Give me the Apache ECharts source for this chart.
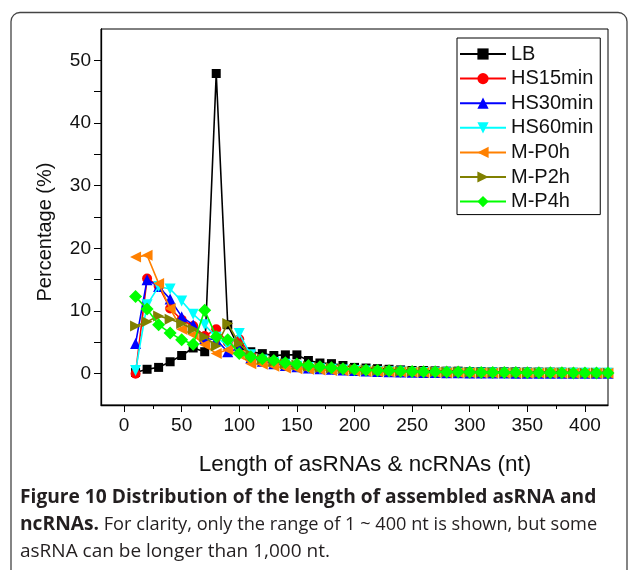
<!DOCTYPE html>
<html>
<head>
<meta charset="utf-8">
<script src="https://cdn.jsdelivr.net/npm/echarts@6/dist/echarts.min.js"></script>
<style>
  html, body { margin: 0; padding: 0; background: #fff; }
  #chart { width: 630px; height: 570px; }
</style>
</head>
<body>
<div id="chart"></div>
<script>
// ---- data ----
const lengths = [10,20,30,40,50,60,70,80,90,100,110,120,130,140,150,160,170,180,190,200,210,220,230,240,250,260,270,280,290,300,310,320,330,340,350,360,370,380,390,400,410,420];
const seriesNames = ['LB','HS15min','HS30min','HS60min','M-P0h','M-P2h','M-P4h'];
const LB       = [0.2,0.7,1.0,1.9,2.9,4.1,3.5,47.9,7.8,4.0,3.5,3.2,2.9,3.0,3.0,2.1,1.7,1.6,1.3,1.0,0.9,0.8,0.7,0.6,0.5,0.5,0.45,0.4,0.4,0.35,0.35,0.3,0.3,0.3,0.28,0.26,0.25,0.24,0.22,0.2,0.2,0.2];
const HS15min  = [0.0,15.2,14.0,10.4,8.6,7.6,6.0,7.1,5.0,5.5,3.0,2.2,1.8,1.5,1.3,1.1,0.9,0.8,0.7,0.6,0.5,0.45,0.4,0.35,0.3,0.28,0.25,0.22,0.2,0.18,0.16,0.15,0.14,0.13,0.12,0.11,0.1,0.1,0.09,0.09,0.08,0.08];
const HS30min  = [4.8,15.0,13.9,11.9,9.1,7.8,5.6,5.4,3.5,4.0,2.5,2.0,1.6,1.3,1.1,0.9,0.8,0.7,0.6,0.5,0.42,0.36,0.3,0.26,0.22,0.2,0.18,0.16,0.14,0.12,0.1,0.1,0.09,0.08,0.08,0.07,0.07,0.06,0.06,0.05,0.05,0.05];
const HS60min  = [0.5,11.0,13.9,13.5,11.6,9.5,7.8,5.8,4.5,6.4,3.0,2.2,1.8,1.5,1.2,1.0,0.8,0.7,0.6,0.5,0.42,0.36,0.3,0.25,0.2,0.18,0.16,0.14,0.12,0.1,0.1,0.09,0.08,0.08,0.07,0.07,0.06,0.06,0.05,0.05,0.05,0.05];
const MP0h     = [18.6,18.9,14.4,10.4,7.1,6.2,4.6,3.2,3.8,3.0,1.6,1.5,1.2,0.9,0.8,0.7,0.6,0.5,0.45,0.4,0.35,0.3,0.28,0.25,0.22,0.2,0.18,0.16,0.15,0.14,0.13,0.12,0.11,0.1,0.1,0.09,0.09,0.08,0.08,0.08,0.07,0.07];
const MP2h     = [7.6,8.3,9.2,8.7,8.0,7.1,5.9,4.4,8.0,4.8,3.0,2.3,1.9,1.6,1.4,1.2,1.0,0.9,0.8,0.7,0.6,0.52,0.46,0.4,0.35,0.32,0.3,0.27,0.25,0.22,0.2,0.19,0.18,0.17,0.16,0.15,0.14,0.13,0.12,0.12,0.11,0.1];
const MP4h     = [12.3,10.3,7.8,6.5,5.4,4.7,10.1,5.9,5.4,3.2,2.7,2.4,2.1,1.75,1.55,1.3,1.1,0.95,0.8,0.7,0.6,0.5,0.45,0.4,0.35,0.32,0.3,0.28,0.25,0.22,0.2,0.2,0.18,0.17,0.16,0.15,0.14,0.13,0.12,0.12,0.11,0.1];
const xMajorTicks = [0,50,100,150,200,250,300,350,400];
const xMinorTicks = [25,75,125,175,225,275,325,375];
const yMajorTicks = [0,10,20,30,40,50];
const yMinorTicks = [5,15,25,35,45];

const allValues = [LB, HS15min, HS30min, HS60min, MP0h, MP2h, MP4h];
const colors  = ['#000000','#ff0000','#0000ff','#00ffff','#ff8000','#808000','#00ff00'];
const symbols = ['rect','circle','triangle','triangle','triangle','triangle','diamond'];
const rotates = [0,0,0,180,90,-90,0];
const sizes   = [9,10,11,11,11,11,13];

const FONT = 'Liberation Sans, Arial, Helvetica, sans-serif';
const CAP = '"Open Sans", "Noto Sans", sans-serif';

const series = seriesNames.map((name, i) => ({
  name: name,
  type: 'line',
  xAxisIndex: 0,
  yAxisIndex: 0,
  data: lengths.map((x, j) => [x, allValues[i][j]]),
  symbol: symbols[i],
  symbolRotate: rotates[i],
  symbolSize: sizes[i],
  showAllSymbol: true,
  animation: false,
  lineStyle: { color: colors[i], width: 1.6 },
  itemStyle: { color: colors[i], borderWidth: 0 },
  emphasis: { disabled: true },
  z: 2 + i
}));

const chart = echarts.init(document.getElementById('chart'), null, { renderer: 'canvas' });
chart.setOption({
  backgroundColor: '#ffffff',
  animation: false,
  grid: { left: 101, top: 29, width: 507, height: 376, show: true, borderColor: '#000', borderWidth: 1, backgroundColor: 'transparent' },
  xAxis: [
    {
      type: 'value', min: -20, max: 420, position: 'bottom',
      axisLine: { show: true, onZero: false, lineStyle: { color: '#000', width: 1.3 } },
      axisTick: { show: true, inside: false, length: 7, customValues: xMajorTicks, lineStyle: { color: '#000', width: 1 } },
      axisLabel: { show: true, customValues: xMajorTicks, fontSize: 19, fontFamily: FONT, color: '#111', margin: 11 },
      splitLine: { show: false }
    },
    {
      type: 'value', min: -20, max: 420, position: 'bottom',
      axisLine: { show: false, onZero: false },
      axisTick: { show: true, inside: false, length: 4, customValues: xMinorTicks, lineStyle: { color: '#000', width: 1 } },
      axisLabel: { show: false },
      splitLine: { show: false }
    }
  ],
  yAxis: [
    {
      type: 'value', min: -5, max: 55, position: 'left',
      axisLine: { show: true, onZero: false, lineStyle: { color: '#000', width: 1.3 } },
      axisTick: { show: true, inside: false, length: 7, customValues: yMajorTicks, lineStyle: { color: '#000', width: 1 } },
      axisLabel: { show: true, customValues: yMajorTicks, fontSize: 19, fontFamily: FONT, color: '#111', margin: 10 },
      splitLine: { show: false }
    },
    {
      type: 'value', min: -5, max: 55, position: 'left',
      axisLine: { show: false, onZero: false },
      axisTick: { show: true, inside: false, length: 7, customValues: yMinorTicks, lineStyle: { color: '#000', width: 1 } },
      axisLabel: { show: false },
      splitLine: { show: false }
    }
  ],
  legend: {
    orient: 'vertical',
    left: 457, top: 38,
    data: seriesNames,
    backgroundColor: '#fff',
    borderColor: '#000', borderWidth: 1,
    padding: [6, 7, 3, 2],
    itemWidth: 46, itemHeight: 14, itemGap: 4.6,
    textStyle: { fontSize: 20, fontFamily: FONT, color: '#111' },
    selectedMode: false
  },
  graphic: [
    { type: 'rect', silent: true, z: -10,
      shape: { x: 11, y: 12.5, width: 616, height: 700, r: 9 },
      style: { fill: 'none', stroke: '#444', lineWidth: 1.3 } },
    { type: 'text', silent: true, x: 45, y: 232, rotation: Math.PI / 2,
      style: { text: 'Percentage (%)', font: '20px ' + FONT, fill: '#111', textAlign: 'center', textVerticalAlign: 'middle' } },
    { type: 'text', silent: true, x: 365, y: 465,
      style: { text: 'Length of asRNAs & ncRNAs (nt)', font: '22.5px ' + FONT, fill: '#111', textAlign: 'center', textVerticalAlign: 'middle' } },
    { type: 'text', silent: true, x: 20, y: 507,
      style: { text: 'Figure 10 Distribution of the length of assembled asRNA and', font: 'bold 19.2px ' + CAP, fill: '#231f20', textVerticalAlign: 'bottom' } },
    { type: 'text', silent: true, x: 20, y: 534,
      style: { text: '{b|ncRNAs.} For clarity, only the range of 1 ~ 400 nt is shown, but some',
               font: '18.2px ' + CAP, fill: '#231f20', textVerticalAlign: 'bottom',
               rich: { b: { font: 'bold 19.2px ' + CAP, fill: '#231f20' } } } },
    { type: 'text', silent: true, x: 20, y: 561,
      style: { text: 'asRNA can be longer than 1,000 nt.', font: '19px ' + CAP, fill: '#231f20', textVerticalAlign: 'bottom' } }
  ],
  series: series
});
</script>
</body>
</html>
